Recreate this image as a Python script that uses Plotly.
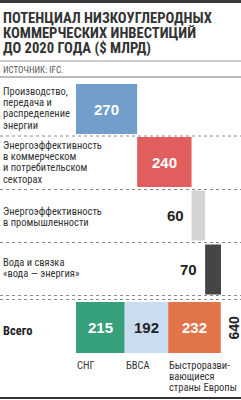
import plotly.graph_objects as go

# ---------------- data ----------------
title_lines = ["ПОТЕНЦИАЛ НИЗКОУГЛЕРОДНЫХ", "КОММЕРЧЕСКИХ ИНВЕСТИЦИЙ", "ДО 2020 ГОДА ($ МЛРД)"]
source = "ИСТОЧНИК: IFC."
category_lines = [
    ["Производство,", "передача и", "распределение", "энергии"],
    ["Энергоэффективность", "в коммерческом", "и потребительском", "секторах"],
    ["Энергоэффективность", "в промышленности"],
    ["Вода и связка", "«вода — энергия»"],
]
values = [270, 240, 60, 70]
total_label = "Всего"
region_lines = [["СНГ"], ["БВСА"], ["Быстроразви-", "вающиеся", "страны Европы"]]
region_values = [215, 192, 232]
total_value = 640

# ---------------- styles / layout ----------------
W, H = 241, 400
bar_colors = ["#729ecc", "#e05e5e", "#d3d3d3", "#454545"]
value_colors = ["white", "white", "#222222", "#222222"]
region_colors = ["#35a07a", "#c9dcf0", "#e27449"]
region_text_colors = ["white", "#222222", "white"]
row_centers = [109, 162, 215.5, 269.5]
total_center = 327.5
bar_h = 50
NARROW = "Liberation Sans Narrow, Arial Narrow, Roboto Condensed, sans-serif"
BOLD = "Liberation Sans, Arial, sans-serif"
x0_px, x1_px = 76, 221
LBL = 10.5

fig = go.Figure()
annotations = []
shapes = []

def px(x):
    return x / W

def add_text(text, xp, y, size, color="#222222", family=NARROW, xanchor="left", bold=False, angle=0):
    t = f"<b>{text}</b>" if bold else text
    annotations.append(dict(text=t, x=px(xp), y=y, xref="paper", yref="y", xanchor=xanchor,
                            yanchor="middle", showarrow=False, textangle=angle, borderpad=0,
                            font=dict(size=size, color=color, family=family)))

# waterfall bars
base = 0
for i, v in enumerate(values):
    fig.add_trace(go.Bar(orientation="h", x=[v], base=[base], y=[row_centers[i]], width=bar_h,
                         marker=dict(color=bar_colors[i], line=dict(width=0)), hoverinfo="skip"))
    base += v

# total stacked bar
rbase = 0
for i, v in enumerate(region_values):
    fig.add_trace(go.Bar(orientation="h", x=[v], base=[rbase], y=[total_center], width=51,
                         marker=dict(color=region_colors[i], line=dict(width=0)), hoverinfo="skip"))
    rbase += v

# value labels (positions computed from scale)
scale = (x1_px - x0_px) / total_value
base = 0
for i, v in enumerate(values):
    left = x0_px + base * scale
    right = x0_px + (base + v) * scale
    if v * scale > 35:
        add_text(str(v), (left + right) / 2, row_centers[i], 15, value_colors[i], BOLD, "center", True)
    else:
        add_text(str(v), left - 7, row_centers[i], 15, value_colors[i], BOLD, "right", True)
    base += v

rbase = 0
for i, v in enumerate(region_values):
    left = x0_px + rbase * scale
    right = x0_px + (rbase + v) * scale
    add_text(str(v), (left + right) / 2, total_center, 15, region_text_colors[i], BOLD, "center", True)
    for j, line in enumerate(region_lines[i]):
        add_text(line, left, 365 + 11 * j, LBL, "#333333")
    rbase += v
add_text(str(total_value), 233, total_center, 14, "#222222", BOLD, "center", True, angle=-90)

# category labels
first_line_y = [91, 145, 211.5, 262.5]
for i, lines in enumerate(category_lines):
    for j, line in enumerate(lines):
        add_text(line, 2, first_line_y[i] + 11.4 * j, LBL, "#333333")
add_text(total_label, 2, 330, 12.5, "#222222", NARROW, bold=True)

# title & source
for j, line in enumerate(title_lines):
    add_text(line, 2, 17.5 + 15 * j, 14.6, "#333333", NARROW, bold=True)
add_text(source, 2, 69.5, 9, "#555555", NARROW)

# rules
def hline(y, color, width, dash="solid"):
    shapes.append(dict(type="line", xref="paper", yref="y", x0=0, x1=1, y0=y, y1=y,
                       line=dict(color=color, width=width, dash=dash)))

shapes.append(dict(type="rect", xref="paper", yref="y", x0=0, x1=1, y0=0, y1=3,
                   fillcolor="#3a3a3a", line=dict(width=0)))
hline(61, "#9a9a9a", 1)
hline(77, "#777777", 1)
for y in [136, 189.5, 242.5, 295.5, 299.5]:
    hline(y, "#8a8a8a", 1, "dot")
hline(398, "#333333", 2)

fig.update_layout(
    width=W, height=H, margin=dict(l=0, r=0, t=0, b=0),
    paper_bgcolor="white", plot_bgcolor="white",
    showlegend=False, barmode="overlay",
    xaxis=dict(domain=[x0_px / W, x1_px / W], range=[0, total_value], visible=False, fixedrange=True),
    yaxis=dict(domain=[0, 1], range=[H, 0], visible=False, fixedrange=True),
    annotations=annotations, shapes=shapes,
)
fig.write_html("out.html", config={"displayModeBar": False})
